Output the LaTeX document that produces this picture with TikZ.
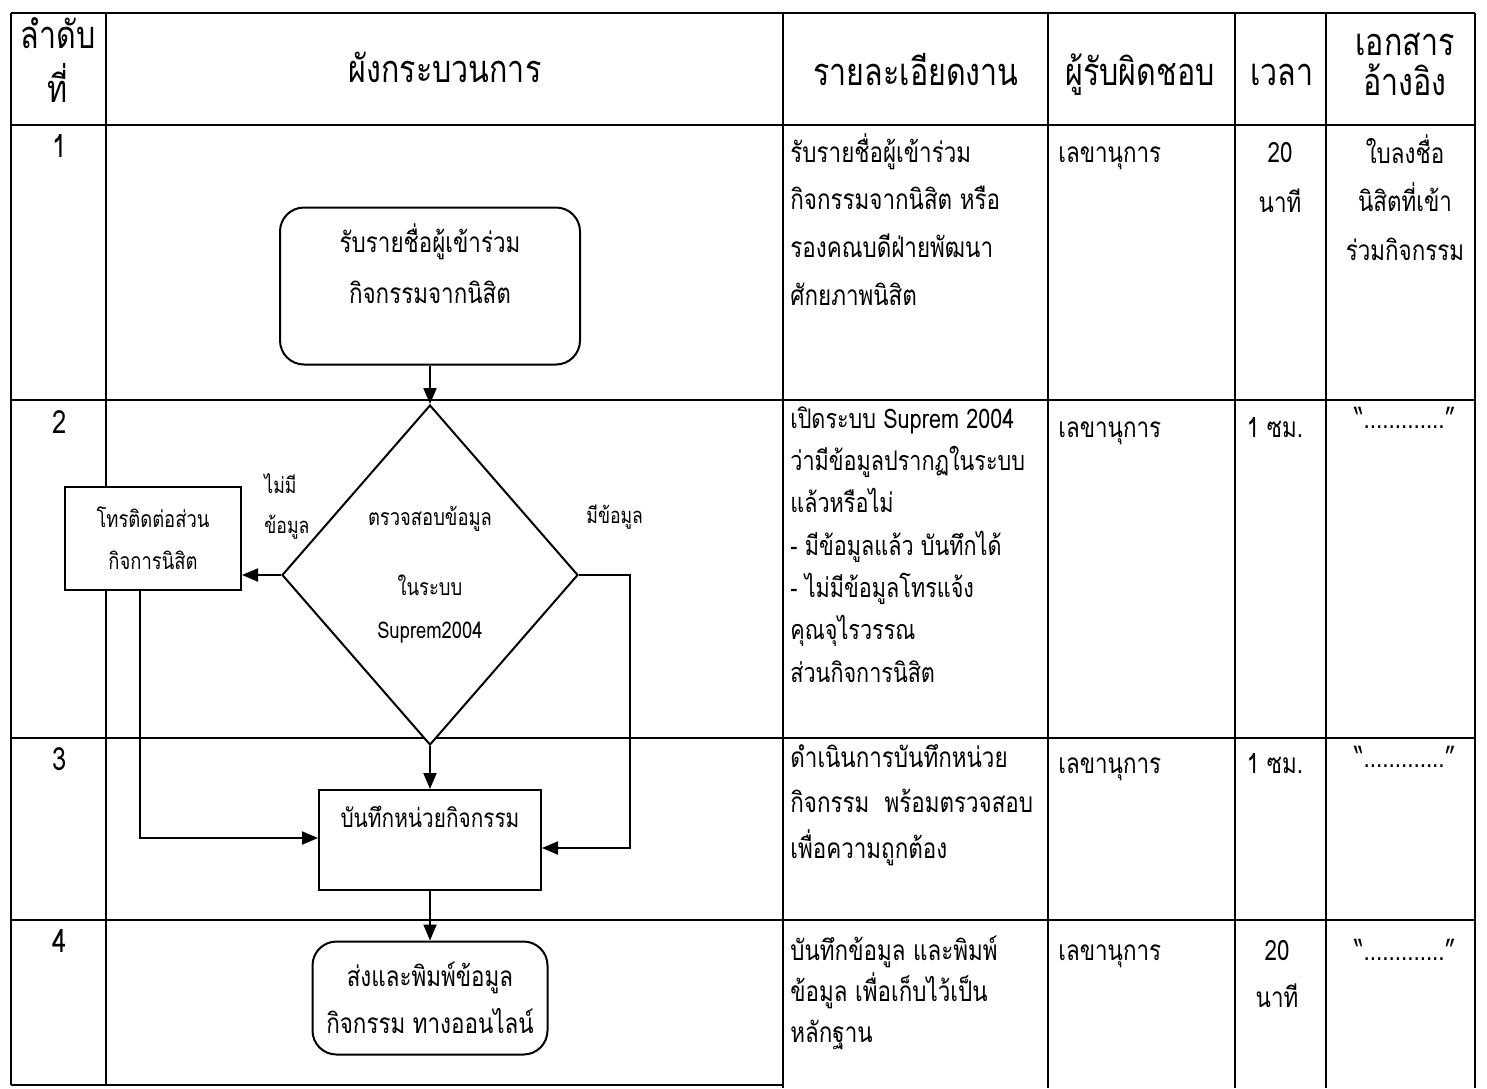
\documentclass[tikz,border=0pt]{standalone}
\usepackage{fontspec}
\setmainfont[Script=Thai,FakeStretch=0.8]{Loma}
\usetikzlibrary{shapes.geometric,arrows.meta,positioning}

\tikzset{
  tabline/.style={line width=0.9pt},
  celltxt/.style={inner sep=0pt, align=left, anchor=base west, font=\fontsize{14}{23.8}\selectfont},
  ctxt/.style={inner sep=0pt, align=center, anchor=base, font=\fontsize{14}{23.8}\selectfont},
  headtxt/.style={inner sep=0pt, align=center, anchor=base, font=\fontsize{19}{24}\selectfont},
  flowbox/.style={draw, fill=white, line width=1pt, align=center, inner sep=0pt},
  termbox/.style={flowbox, rounded corners=12pt},
  procbox/.style={flowbox, rectangle},
  decbox/.style={flowbox, diamond},
  arrowline/.style={line width=1pt, -{Triangle[length=8pt,width=6.5pt]}},
}

\begin{document}
\begin{tikzpicture}[x=0.5pt, y=-0.5pt]
    \useasboundingbox (0,0) rectangle (1487,1088);

    % table frame
    \foreach \y in {13,125,400,738,920} {
        \draw[tabline] (11,\y) -- (1475,\y);
    }
    \draw[tabline] (11,1085) -- (783,1085);
    \draw[tabline] (11,13) -- (11,1085);
    \draw[tabline] (106,13) -- (106,1085);
    \foreach \x in {783,1048,1235,1326,1475} {
        \draw[tabline] (\x,13) -- (\x,1088);
    }

    % header (multi-line texts sit on the baseline of their last line)
    \node[headtxt, font=\fontsize{19}{25}\selectfont] (hdNo) at (58,102) {ลำดับ\\[2pt]ที่};
    \node[headtxt] (hdFlow) at (445,82) {ผังกระบวนการ};
    \node[headtxt] (hdDetail) at (916,85) {รายละเอียดงาน};
    \node[headtxt] (hdOwner) at (1140,85) {ผู้รับผิดชอบ};
    \node[headtxt] (hdTime) at (1282,85) {เวลา};
    \node[headtxt, font=\fontsize{19}{20}\selectfont] (hdRef) at (1405,95) {เอกสาร\\อ้างอิง};

    % columns
    \foreach \y/\n in {157/1, 433/2, 770/3, 952/4} {
        \node[headtxt, font=\fontsize{16}{20}\selectfont] (no\n) at (60,\y) {\n};
    }
    \foreach \y/\n in {162/1, 437/2, 773/3, 960/4} {
        \node[celltxt] (own\n) at (1058,\y) {เลขานุการ};
    }
    \node[celltxt] (det1) at (790,305) {รับรายชื่อผู้เข้าร่วม\\กิจกรรมจากนิสิต หรือ\\รองคณบดีฝ่ายพัฒนา\\ศักยภาพนิสิต};
    \node[celltxt, font=\fontsize{13.5}{21.15}\selectfont] (det2) at (790,682) {เปิดระบบ Suprem 2004\\ว่ามีข้อมูลปรากฏในระบบ\\แล้วหรือไม่\\- มีข้อมูลแล้ว บันทึกได้\\- ไม่มีข้อมูลโทรแจ้ง\\คุณจุไรวรรณ\\ส่วนกิจการนิสิต};
    \node[celltxt, font=\fontsize{14}{22.75}\selectfont] (det3) at (790,858) {ดำเนินการบันทึกหน่วย\\กิจกรรม\ \ พร้อมตรวจสอบ\\เพื่อความถูกต้อง};
    \node[celltxt, font=\fontsize{14}{20.5}\selectfont] (det4) at (790,1042) {บันทึกข้อมูล และพิมพ์\\ข้อมูล เพื่อเก็บไว้เป็น\\หลักฐาน};

    \node[ctxt, font=\fontsize{14}{25}\selectfont] (time1) at (1280,212) {20\\นาที};
    \node[ctxt] (time2) at (1275,437) {1 ซม.};
    \node[ctxt] (time3) at (1275,773) {1 ซม.};
    \node[ctxt, font=\fontsize{14}{23.5}\selectfont] (time4) at (1277,1007) {20\\นาที};

    \node[ctxt, font=\fontsize{14}{24.25}\selectfont] (ref1) at (1405,260) {ใบลงชื่อ\\นิสิตที่เข้า\\ร่วมกิจกรรม};
    \foreach \y/\n in {428/2, 767/3, 960/4} {
        \node[ctxt] (ref\n) at (1405,\y) {“.............”};
    }

    % flow chart
    \node[termbox, minimum width=150pt, minimum height=78.5pt, text depth=22pt,
          font=\fontsize{14}{25.5}\selectfont] (recvList) at (430,286) {รับรายชื่อผู้เข้าร่วม\\กิจกรรมจากนิสิต};
    \node[decbox, minimum width=148pt, minimum height=170pt,
          font=\fontsize{11.5}{21.5}\selectfont] (checkData) at (430,575) {ตรวจสอบข้อมูล\\[13.5pt]ในระบบ\\Suprem2004};
    \node[procbox, minimum width=88pt, minimum height=51.5pt,
          font=\fontsize{11.5}{21}\selectfont] (callOffice) at (153,538) {โทรติดต่อส่วน\\กิจการนิสิต};
    \node[procbox, minimum width=111pt, minimum height=50pt, text depth=23pt,
          font=\fontsize{13}{20}\selectfont] (saveUnit) at (430,840) {บันทึกหน่วยกิจกรรม};
    \node[termbox, minimum width=117.5pt, minimum height=56.5pt,
          font=\fontsize{14}{23.5}\selectfont] (sendOnline) at (430,998) {ส่งและพิมพ์ข้อมูล\\กิจกรรม ทางออนไลน์};

    \node[celltxt, font=\fontsize{11}{20}\selectfont] (noData) at (264,533) {ไม่มี\\ข้อมูล};
    \node[celltxt, font=\fontsize{11}{20}\selectfont] (hasData) at (586,523) {มีข้อมูล};

    \coordinate (lft) at (140,838);
    \coordinate (rgt) at (630,848);

    \draw[arrowline] (recvList.south) -- (checkData.north);
    \draw[arrowline] (checkData.west) -- (callOffice.east |- checkData.west);
    \draw[arrowline] (checkData.south) -- (saveUnit.north);
    \draw[arrowline] (callOffice.south -| lft) -- (lft) -- (saveUnit.west |- lft);
    \draw[arrowline] (checkData.east) -| (rgt) -- (saveUnit.east |- rgt);
    \draw[arrowline] (saveUnit.south) -- (sendOnline.north);
\end{tikzpicture}
\end{document}
